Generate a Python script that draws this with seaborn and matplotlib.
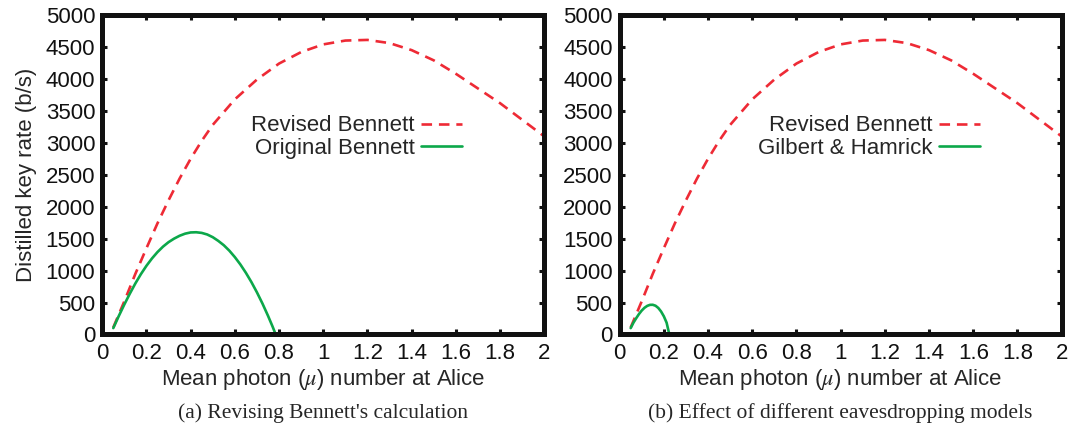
import numpy as np
import pandas as pd
import seaborn as sns
import matplotlib.pyplot as plt
from matplotlib.ticker import FuncFormatter

# Revised Bennett (same curve in both panels)
mu_rev = [0.05, 0.1, 0.15, 0.2, 0.25, 0.3, 0.35, 0.4, 0.45, 0.5, 0.6, 0.7, 0.8,
          0.9, 1.0, 1.1, 1.2, 1.3, 1.4, 1.5, 1.6, 1.7, 1.8, 1.9, 2.0]
rate_rev = [110, 520, 950, 1350, 1740, 2100, 2440, 2750, 3030, 3280, 3680, 3990, 4240,
            4420, 4540, 4600, 4610, 4560, 4450, 4290, 4080, 3850, 3620, 3360, 3100]

# Original Bennett (panel a)
mu_orig = [0.05, 0.075, 0.1, 0.125, 0.15, 0.175, 0.2, 0.225, 0.25, 0.275, 0.3, 0.325,
           0.35, 0.375, 0.4, 0.425, 0.45, 0.475, 0.5, 0.525, 0.55, 0.575, 0.6, 0.625,
           0.65, 0.675, 0.7, 0.725, 0.75, 0.77, 0.785]
rate_orig = [100, 290, 470, 640, 800, 945, 1075, 1190, 1290, 1375, 1445, 1500,
             1545, 1578, 1597, 1600, 1590, 1565, 1523, 1465, 1397, 1312, 1211, 1096,
             965, 820, 659, 484, 293, 130, 0]

# Gilbert & Hamrick (panel b)
mu_gh = [0.05, 0.0625, 0.075, 0.0875, 0.1, 0.1125, 0.125, 0.1375, 0.15, 0.1625,
         0.175, 0.1875, 0.2, 0.2125, 0.225]
rate_gh = [100, 185, 255, 320, 375, 418, 448, 464, 465, 450,
           415, 360, 285, 185, 0]

captions = ["(a) Revising Bennett's calculation",
            "(b) Effect of different eavesdropping models"]
second_labels = ["Original Bennett", "Gilbert & Hamrick"]

RED = "#ee2a35"
GREEN = "#0ca84a"
FS = 16

sns.set_style("ticks")
plt.rcParams["font.family"] = ["Liberation Sans", "DejaVu Sans"]
plt.rcParams["mathtext.fontset"] = "stix"

fig = plt.figure(figsize=(10.75, 4.26), dpi=100)
ax_a = fig.add_axes([0.0951, 0.2148, 0.4112, 0.75])
ax_b = fig.add_axes([0.5764, 0.2148, 0.4112, 0.75])

rev = pd.DataFrame({"mu": mu_rev, "rate": rate_rev})
others = [pd.DataFrame({"mu": mu_orig, "rate": rate_orig}),
          pd.DataFrame({"mu": mu_gh, "rate": rate_gh})]

for i, ax in enumerate([ax_a, ax_b]):
    sns.lineplot(data=rev, x="mu", y="rate", ax=ax, color=RED, linewidth=1.9,
                 linestyle=(0, (4, 2.6)), label="Revised Bennett")
    sns.lineplot(data=others[i], x="mu", y="rate", ax=ax, color=GREEN, linewidth=1.9,
                 label=second_labels[i])
    ax.set_xlim(0, 2)
    ax.set_ylim(0, 5000)
    ax.set_xticks(np.arange(0, 2.01, 0.2))
    ax.set_yticks(np.arange(0, 5001, 500))
    ax.xaxis.set_major_formatter(FuncFormatter(lambda v, p: "%g" % round(v, 2)))
    ax.tick_params(direction="in", length=3.5, width=2.2, labelsize=FS,
                   top=True, right=True, pad=5, colors="#111111")
    ax.tick_params(axis="x", pad=6)
    for sp in ax.spines.values():
        sp.set_linewidth(3.6)
        sp.set_color("#111111")
    ax.set_xlabel(r"Mean photon ($\mu$) number at Alice", fontsize=FS, labelpad=2.5)
    ax.set_ylabel("")
    leg = ax.legend(loc="center right", bbox_to_anchor=(0.835, 0.618), frameon=False,
                    markerfirst=False, fontsize=FS, handlelength=1.85,
                    handletextpad=0.3, labelspacing=0.05, borderaxespad=0)
    ax.text(0.5, -0.245, captions[i], transform=ax.transAxes, ha="center", va="center",
            fontsize=15.5, family="Liberation Serif")

ax_a.set_ylabel("Distilled key rate (b/s)", fontsize=FS, labelpad=6)

fig.savefig("out.png", dpi=100)
